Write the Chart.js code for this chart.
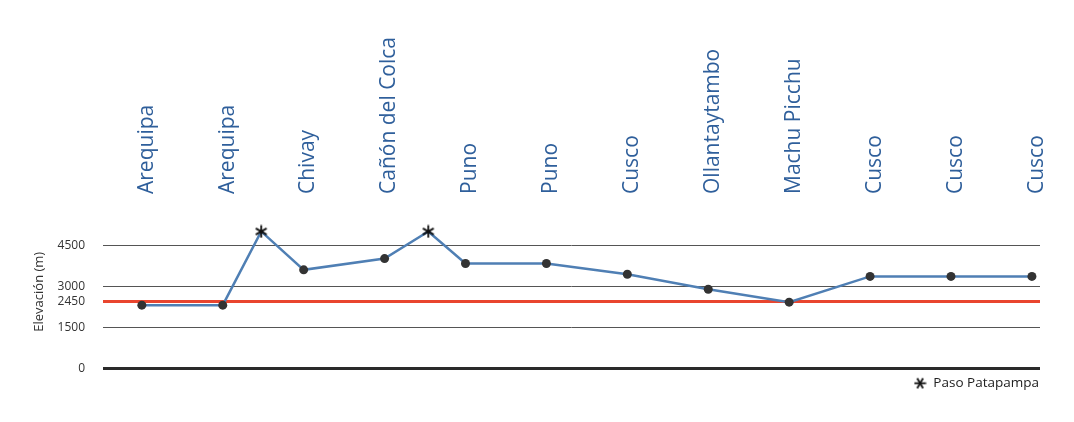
<!DOCTYPE html>
<html>
<head>
<meta charset="utf-8">
<script src="https://cdn.jsdelivr.net/npm/chart.js@4"></script>
<style>
  body { margin: 0; background: #fff; }
  #wrap { width: 1074px; height: 422px; }
</style>
</head>
<body>
<div id="wrap"><canvas id="myChart"></canvas></div>
<script>
// stops along the route and their elevation (m)
const stops = ['Arequipa', 'Arequipa', 'Chivay', 'Cañón del Colca', 'Puno', 'Puno', 'Cusco', 'Ollantaytambo', 'Machu Picchu', 'Cusco', 'Cusco', 'Cusco'];
const elevations = [2310, 2310, 3600, 4010, 3830, 3830, 3440, 2890, 2420, 3360, 3360, 3360];
// Paso Patapampa crossings, between stops
const passPositions = [1.475, 3.54];
const passElevations = [5000, 5000];
const passLabel = 'Paso Patapampa';
const yTicks = [0, 1500, 2450, 3000, 4500];
const refLine = 2450;

// asterisk marker
function makeStar(size, rot) {
    const c = document.createElement('canvas');
    c.width = size; c.height = size;
    const g = c.getContext('2d');
    g.strokeStyle = '#111';
    g.lineWidth = 1.8;
    g.translate(size / 2, size / 2);
    for (let i = 0; i < 3; i++) {
        const a = rot + i * Math.PI / 3;
        g.beginPath();
        g.moveTo(Math.cos(a) * size * 0.45, Math.sin(a) * size * 0.45);
        g.lineTo(-Math.cos(a) * size * 0.45, -Math.sin(a) * size * 0.45);
        g.stroke();
    }
    return c;
}
const starChart = makeStar(14, Math.PI / 2);
const starLegend = makeStar(13, 0);

// merge stops and passes into one route line
let route = elevations.map((v, i) => ({x: i, y: v}));
passPositions.forEach((p, i) => route.push({x: p, y: passElevations[i]}));
route.sort((a, b) => a.x - b.x);

// nudge the legend a little to the right and down
const legendShift = {
    id: 'legendShift',
    beforeDraw(chart) {
        const lg = chart.legend;
        if (!lg._shifted) {
            lg.left += 5;
            lg.right += 5;
            lg.top += 2;
            lg.bottom += 2;
            lg._shifted = true;
        }
    }
};

let ctx = document.getElementById('myChart').getContext('2d');
let myChart = new Chart(ctx, {
    type: 'line',
    data: {
        datasets: [{
                label: 'Elevación',
                data: route,
                borderColor: '#4f7fb4',
                borderWidth: 2.5,
                backgroundColor: '#333',
                pointRadius: c => Number.isInteger(c.raw.x) ? 4.5 : 0,
                pointBorderWidth: 0,
                tension: 0,
                order: 2,
            },
            {
                label: passLabel,
                type: 'scatter',
                data: passPositions.map((p, i) => ({x: p, y: passElevations[i]})),
                pointStyle: starChart,
                order: 1,
            }
        ]
    },
    plugins: [legendShift],
    options: {
        responsive: true,
        maintainAspectRatio: false,
        animation: false,
        clip: false,
        layout: {
            padding: {left: 31, right: 34, top: 32, bottom: 24}
        },
        scales: {
            x: {
                type: 'linear',
                position: 'top',
                min: -0.48,
                max: 11.1,
                afterBuildTicks: axis => {
                    axis.ticks = stops.map((s, i) => ({value: i}));
                },
                grid: {display: false, drawTicks: false},
                border: {display: false},
                ticks: {
                    autoSkip: false,
                    minRotation: 90,
                    maxRotation: 90,
                    padding: 21,
                    labelOffset: 30,
                    color: '#2f5f9b',
                    font: {family: 'Open Sans', size: 21},
                    callback: v => stops[v]
                }
            },
            y: {
                min: 0,
                max: 5600,
                afterBuildTicks: axis => {
                    axis.ticks = yTicks.map(v => ({value: v}));
                },
                afterFit: axis => {
                    axis.width = 72;
                },
                grid: {
                    drawTicks: false,
                    color: c => c.tick.value === 0 ? '#2a2a2a' : (c.tick.value === refLine ? '#e9452e' : '#555'),
                    lineWidth: c => c.tick.value === 0 ? 3 : (c.tick.value === refLine ? 3 : 1),
                },
                border: {display: false},
                ticks: {
                    padding: 18,
                    color: '#333',
                    font: {family: 'Open Sans', size: 12},
                    callback: v => String(v)
                },
                title: {
                    display: true,
                    text: 'Elevación (m)',
                    color: '#333',
                    font: {family: 'Open Sans', size: 13},
                    padding: 0
                }
            }
        },
        plugins: {
            legend: {
                position: 'bottom',
                align: 'end',
                labels: {
                    usePointStyle: true,
                    pointStyle: starLegend,
                    color: '#222',
                    font: {family: 'Open Sans', size: 13.5},
                    padding: 6,
                    boxWidth: 13,
                    generateLabels: chart => [{
                        text: passLabel,
                        pointStyle: starLegend,
                        datasetIndex: 1,
                        fontColor: '#222',
                        lineWidth: 0,
                    }]
                }
            },
            tooltip: {enabled: false}
        }
    }
});
</script>
</body>
</html>
